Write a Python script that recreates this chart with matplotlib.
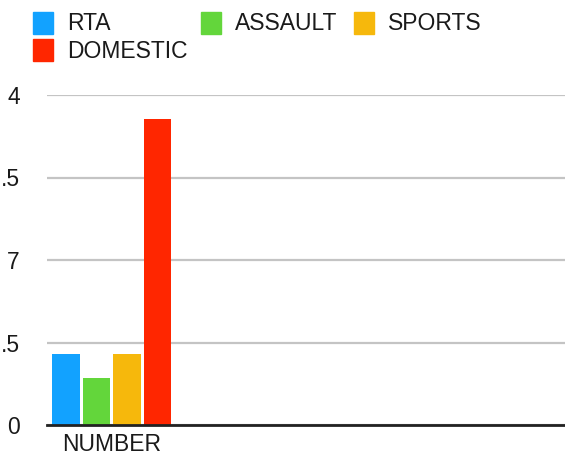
import matplotlib
matplotlib.use("Agg")
import matplotlib.pyplot as plt
from matplotlib.patches import Rectangle

plt.rcParams['font.family'] = ['Liberation Sans', 'DejaVu Sans']

categories = ["NUMBER"]
series = ["RTA", "ASSAULT", "SPORTS", "DOMESTIC"]
values = {"RTA": [3], "ASSAULT": [2], "SPORTS": [3], "DOMESTIC": [13]}
colors = {"RTA": "#12a2ff", "ASSAULT": "#63d63b", "SPORTS": "#f6b80c", "DOMESTIC": "#ff2600"}
yticks = [0, 3.5, 7, 10.5, 14]
# tick labels as visible in the (left-cropped) reference
ytick_labels = ["0", ".5", "7", ".5", "4"]

W, H = 565, 462
fig = plt.figure(figsize=(W / 100, H / 100), dpi=100)
ax = fig.add_axes([47 / W, (H - 425) / H, 1 - 47 / W, (425 - 95) / H])

step = 0.2355
width = 0.216
for i, s in enumerate(series):
    xs = [c + (i - 1.5) * step for c in range(len(categories))]
    ax.bar(xs, values[s], width=width, color=colors[s], zorder=3)

ax.set_xlim(-0.5, 3.5)
ax.set_ylim(0, 14)
ax.set_yticks(yticks)
ax.set_yticklabels(ytick_labels)
ax.set_xticks(range(len(categories)))
ax.set_xticklabels(categories)
ax.tick_params(axis='y', length=0, pad=19.5, labelsize=16.5, labelcolor="#1a1a1a")
ax.tick_params(axis='x', length=0, pad=6, labelsize=16.5, labelcolor="#1a1a1a")
ax.grid(axis='y', color="#c4c4c4", linewidth=1.6, zorder=0)
for side in ["left", "right", "top"]:
    ax.spines[side].set_visible(False)
ax.spines["bottom"].set_color("#222222")
ax.spines["bottom"].set_linewidth(2)
ax.spines["bottom"].set_zorder(4)

# legend drawn in pixel positions
legend_items = [("RTA", 33, 12), ("ASSAULT", 201, 12), ("SPORTS", 354, 12), ("DOMESTIC", 33, 39)]
for name, x0, y0 in legend_items:
    fig.add_artist(Rectangle((x0 / W, 1 - (y0 + 22) / H), 20 / W, 22 / H,
                             transform=fig.transFigure, color=colors[name]))
    fig.text((x0 + 34) / W, 1 - (y0 + 12) / H, name, fontsize=16.5, color="#1a1a1a",
             va="center", ha="left")

fig.savefig("out.png", dpi=100)
